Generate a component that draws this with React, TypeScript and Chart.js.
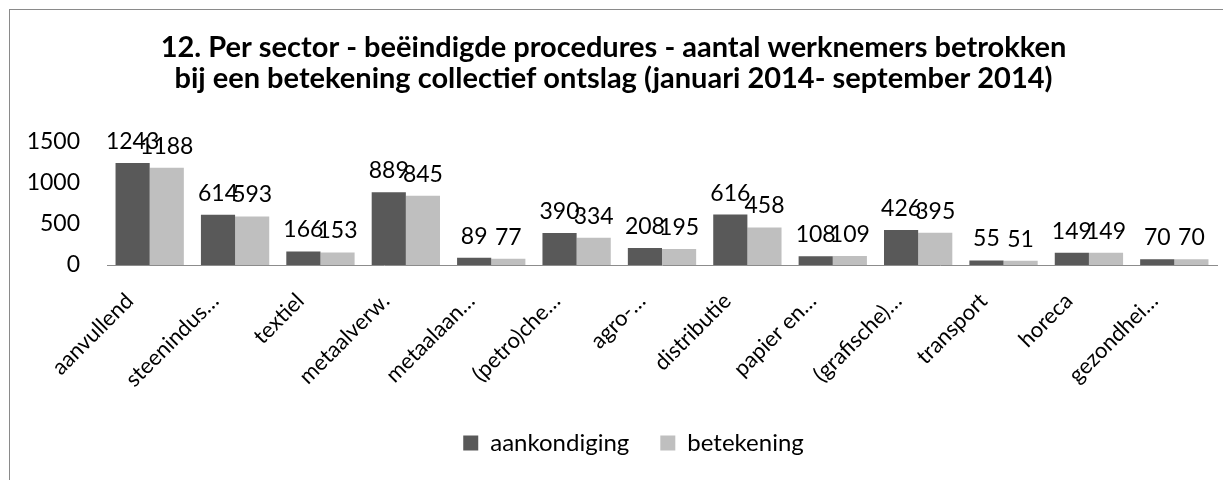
import React, { useEffect, useRef } from "react";
import { Chart, registerables } from "chart.js";

Chart.register(...registerables);

const titleLines = [
  "12. Per sector - beëindigde procedures - aantal werknemers betrokken",
  "bij een betekening collectief ontslag (januari 2014- september 2014)",
];
const categories = [
  "aanvullend",
  "steenindus…",
  "textiel",
  "metaalverw.",
  "metaalaan…",
  "(petro)che…",
  "agro-…",
  "distributie",
  "papier en…",
  "(grafische)…",
  "transport",
  "horeca",
  "gezondhei…",
];
const aankondiging = [1243, 614, 166, 889, 89, 390, 208, 616, 108, 426, 55, 149, 70];
const betekening = [1188, 593, 153, 845, 77, 334, 195, 458, 109, 395, 51, 149, 70];
const seriesNames = ["aankondiging", "betekening"];
const yTicks = [0, 500, 1000, 1500];

const FONT = "Lato, 'Open Sans', sans-serif";

const valueLabels = {
  id: "valueLabels",
  afterDatasetsDraw(chart: any) {
    const ctx = chart.ctx;
    ctx.save();
    ctx.font = `23px ${FONT}`;
    ctx.fillStyle = "#000";
    ctx.textAlign = "center";
    ctx.textBaseline = "alphabetic";
    chart.data.datasets.forEach((ds: any, di: number) => {
      const meta = chart.getDatasetMeta(di);
      meta.data.forEach((el: any, i: number) => {
        ctx.fillText(String(ds.data[i]), el.x, el.y - 14);
      });
    });
    ctx.restore();
  },
};

const legendShift = {
  id: "legendShift",
  afterLayout(chart: any) {
    if (chart.legend) {
      chart.legend.left += 20;
      chart.legend.right += 20;
    }
  },
};

export default function App() {
  const ref = useRef<HTMLCanvasElement>(null);
  useEffect(() => {
    document.documentElement.style.overflow = "hidden";
    const chart = new Chart(ref.current!, {
      type: "bar",
      data: {
        labels: categories,
        datasets: [
          { label: seriesNames[0], data: aankondiging, backgroundColor: "#595959", borderWidth: 0 },
          { label: seriesNames[1], data: betekening, backgroundColor: "#bfbfbf", borderWidth: 0 },
        ],
      },
      options: {
        animation: false,
        responsive: false,
        maintainAspectRatio: false,
        layout: { padding: { left: 0, right: 14, top: 0, bottom: 15 } },
        datasets: { bar: { categoryPercentage: 0.8, barPercentage: 1.0 } } as any,
        plugins: {
          title: {
            display: true,
            text: titleLines,
            color: "#000",
            font: { family: FONT, size: 29, weight: "bold", lineHeight: 1.07 },
            padding: { top: 22, bottom: 48 },
          },
          legend: {
            position: "bottom",
            labels: {
              color: "#000",
              font: { family: FONT, size: 24 },
              boxWidth: 15,
              boxHeight: 15,
              padding: 31,
            },
          },
          tooltip: { enabled: false },
        },
        scales: {
          x: {
            grid: { display: false, drawTicks: false },
            border: { display: true, color: "#8c8c8c", width: 1 },
            ticks: {
              color: "#000",
              font: { family: FONT, size: 22 },
              autoSkip: false,
              maxRotation: 45,
              minRotation: 45,
              padding: 23,
              labelOffset: -20,
            },
            afterFit(scale: any) {
              scale.height = 135;
            },
          },
          y: {
            min: 0,
            max: 1500,
            grid: { display: false, drawTicks: false },
            border: { display: false },
            afterBuildTicks(scale: any) {
              scale.ticks = yTicks.map((v) => ({ value: v }));
            },
            ticks: {
              color: "#000",
              font: { family: FONT, size: 23 },
              padding: 27,
              callback: (v: any) => String(v),
            },
            afterFit(scale: any) {
              scale.width = 97;
            },
          },
        },
      },
      plugins: [valueLabels, legendShift],
    });
    return () => chart.destroy();
  }, []);
  return (
    <div
      style={{
        marginLeft: 1,
        marginTop: 1,
        borderTop: "1px solid #8a8a8a",
        borderLeft: "1px solid #8a8a8a",
        width: 1221,
        height: 470,
        background: "#fff",
      }}
    >
      <canvas ref={ref} width={1221} height={470} style={{ display: "block", width: 1221, height: 470 }} />
    </div>
  );
}
